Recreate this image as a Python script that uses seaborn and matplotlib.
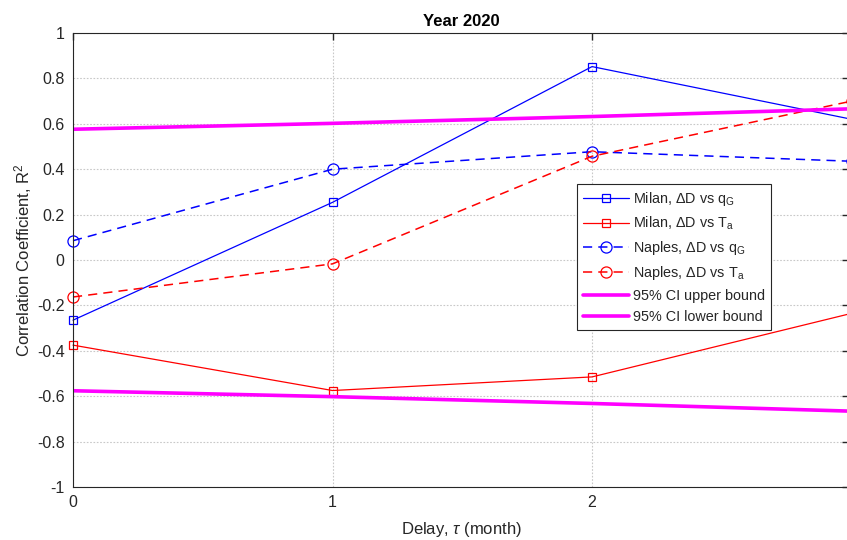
import matplotlib
matplotlib.use("Agg")
import matplotlib.pyplot as plt
import seaborn as sns
import pandas as pd

# ---- data ----
delay = [0, 1, 2, 3]
milan_qg = [-0.265, 0.254, 0.852, 0.62]
milan_ta = [-0.375, -0.575, -0.515, -0.235]
naples_qg = [0.085, 0.40, 0.477, 0.435]
naples_ta = [-0.163, -0.017, 0.457, 0.70]
ci_upper = [0.576, 0.602, 0.632, 0.666]
ci_lower = [-0.576, -0.602, -0.632, -0.666]

labels = [
    r"Milan, $\Delta$D vs q$_\mathrm{G}$",
    r"Milan, $\Delta$D vs T$_\mathrm{a}$",
    r"Naples, $\Delta$D vs q$_\mathrm{G}$",
    r"Naples, $\Delta$D vs T$_\mathrm{a}$",
    "95% CI upper bound",
    "95% CI lower bound",
]
yticks = [-1, -0.8, -0.6, -0.4, -0.2, 0, 0.2, 0.4, 0.6, 0.8, 1]
ytick_labels = ["-1", "-0.8", "-0.6", "-0.4", "-0.2", "0", "0.2", "0.4", "0.6", "0.8", "1"]
xticks = [0, 1, 2]

sns.set_theme(style="white")
plt.rcParams["font.family"] = ["Liberation Sans", "DejaVu Sans"]
plt.rcParams["mathtext.fontset"] = "custom"
plt.rcParams["mathtext.rm"] = "Liberation Sans"
plt.rcParams["mathtext.it"] = "Liberation Sans:italic"
plt.rcParams["mathtext.bf"] = "Liberation Sans:bold"
plt.rcParams["axes.unicode_minus"] = False

fig = plt.figure(figsize=(8.47, 5.40), dpi=100)
ax = fig.add_axes([73 / 847, 1 - 487 / 540, (849 - 73) / 847, (487 - 33) / 540])

series = [
    (milan_qg, "#0000ff", "-", "s", 6, 0.9),
    (milan_ta, "#ff0000", "-", "s", 6, 0.9),
    (naples_qg, "#0000ff", (0, (6, 4)), "o", 8, 1.1),
    (naples_ta, "#ff0000", (0, (6, 4)), "o", 8, 1.1),
    (ci_upper, "#ff00ff", "-", None, 0, 2.6),
    (ci_lower, "#ff00ff", "-", None, 0, 2.6),
]
for (vals, col, ls, mk, ms, lw), lab in zip(series, labels):
    d = pd.DataFrame({"delay": delay, "r": vals})
    kw = dict(x="delay", y="r", data=d, ax=ax, color=col, linewidth=lw,
              label=lab, estimator=None, sort=False)
    if mk is not None:
        kw.update(marker=mk, markersize=ms, markerfacecolor="none",
                  markeredgecolor=col, markeredgewidth=0.9)
    sns.lineplot(**kw)
    ln = ax.lines[-1]
    ln.set_linestyle(ls)
    if mk is not None:
        ln.set_clip_on(False)

ax.set_xlim(0, 2.99)
ax.set_ylim(-1, 1)
ax.set_xticks(xticks)
ax.set_xticklabels([str(t) for t in xticks])
ax.set_yticks(yticks)
ax.set_yticklabels(ytick_labels)
ax.grid(True, linestyle=(0, (1.5, 1.5)), color="#c8c8c8", linewidth=0.8)
ax.tick_params(direction="in", length=5, width=1.0, colors="#262626",
               labelsize=11.5, top=True, right=True, pad=6,
               labelcolor="#262626")
for s in ax.spines.values():
    s.set_color("#262626")
    s.set_linewidth(0.8)

ax.set_title("Year 2020", fontsize=12, fontweight="bold", pad=5, color="black")
ax.set_xlabel(r"Delay, $\tau$ (month)", fontsize=12, color="#262626", labelpad=7)
ax.set_ylabel(r"Correlation Coefficient, R$^2$", fontsize=12, color="#262626", labelpad=2)

leg = ax.legend(loc="upper left", bbox_to_anchor=(577 / 847, 1 - 184 / 540),
                bbox_transform=fig.transFigure, fontsize=10.4, frameon=True,
                fancybox=False, edgecolor="#262626", framealpha=1,
                handlelength=3.2, borderpad=0.4, labelspacing=0.48,
                handletextpad=0.3, borderaxespad=0)
leg.get_frame().set_linewidth(0.8)

fig.savefig("out.png", dpi=100)
